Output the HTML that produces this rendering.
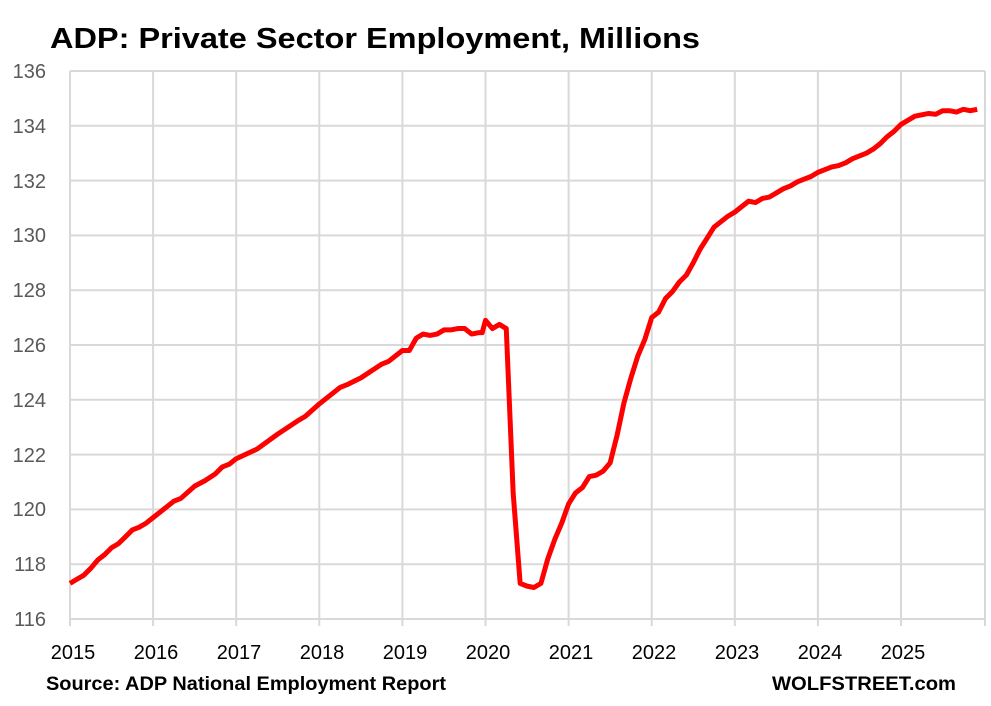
<!DOCTYPE html>
<html><head><meta charset="utf-8"><style>
body{margin:0;background:#fff;}
svg{display:block;font-family:"Liberation Sans",Arial,sans-serif;}
</style></head><body>
<svg width="991" height="706" viewBox="0 0 991 706">
<rect width="991" height="706" fill="#fff"/>
<text x="50" y="48" font-size="29" font-weight="bold" fill="#000" textLength="650" lengthAdjust="spacingAndGlyphs">ADP: Private Sector Employment, Millions</text>
<g stroke="#d9d9d9" stroke-width="2">
<line x1="70" y1="71" x2="985" y2="71"/>
<line x1="70" y1="125.8" x2="985" y2="125.8"/>
<line x1="70" y1="180.6" x2="985" y2="180.6"/>
<line x1="70" y1="235.4" x2="985" y2="235.4"/>
<line x1="70" y1="290.2" x2="985" y2="290.2"/>
<line x1="70" y1="345" x2="985" y2="345"/>
<line x1="70" y1="399.8" x2="985" y2="399.8"/>
<line x1="70" y1="454.6" x2="985" y2="454.6"/>
<line x1="70" y1="509.4" x2="985" y2="509.4"/>
<line x1="70" y1="564.2" x2="985" y2="564.2"/>
<line x1="70" y1="619" x2="985" y2="619"/>
<line x1="70" y1="71" x2="70" y2="626"/>
<line x1="153.1" y1="71" x2="153.1" y2="626"/>
<line x1="236.2" y1="71" x2="236.2" y2="626"/>
<line x1="319.3" y1="71" x2="319.3" y2="626"/>
<line x1="402.4" y1="71" x2="402.4" y2="626"/>
<line x1="485.5" y1="71" x2="485.5" y2="626"/>
<line x1="568.6" y1="71" x2="568.6" y2="626"/>
<line x1="651.7" y1="71" x2="651.7" y2="626"/>
<line x1="734.8" y1="71" x2="734.8" y2="626"/>
<line x1="817.9" y1="71" x2="817.9" y2="626"/>
<line x1="901" y1="71" x2="901" y2="626"/>
<line x1="985" y1="71" x2="985" y2="626"/>
</g>
<g font-size="20" fill="#595959" text-anchor="end">
<text x="46" y="78">136</text><text x="46" y="133">134</text><text x="46" y="188">132</text>
<text x="46" y="242">130</text><text x="46" y="297">128</text><text x="46" y="352">126</text>
<text x="46" y="407">124</text><text x="46" y="462">122</text><text x="46" y="516">120</text>
<text x="46" y="571">118</text><text x="46" y="626">116</text>
</g>
<g font-size="20" fill="#000" text-anchor="middle">
<text x="73" y="659">2015</text><text x="156" y="659">2016</text><text x="239" y="659">2017</text>
<text x="322" y="659">2018</text><text x="405" y="659">2019</text><text x="488" y="659">2020</text>
<text x="571" y="659">2021</text><text x="654" y="659">2022</text><text x="737" y="659">2023</text>
<text x="820" y="659">2024</text><text x="903" y="659">2025</text>
</g>
<text x="46" y="690" font-size="19" font-weight="bold" textLength="400" lengthAdjust="spacingAndGlyphs">Source: ADP National Employment Report</text>
<text x="772" y="690" font-size="19" font-weight="bold" textLength="184" lengthAdjust="spacingAndGlyphs">WOLFSTREET.com</text>
<g transform="translate(70,71) scale(83.1,-27.4) translate(-2015,-136)">
<polyline fill="none" stroke="#ff0000" stroke-width="5" stroke-linejoin="round" vector-effect="non-scaling-stroke" points="
2015,117.3 2015.083,117.45 2015.167,117.6 2015.25,117.85 2015.333,118.15 2015.417,118.35 2015.5,118.6 2015.583,118.75 2015.667,119 2015.75,119.25 2015.833,119.35 2015.917,119.5
2016,119.7 2016.125,120 2016.25,120.3 2016.333,120.4 2016.5,120.85 2016.625,121.05 2016.75,121.3 2016.833,121.55 2016.917,121.65
2017,121.85 2017.25,122.2 2017.5,122.75 2017.75,123.25 2017.833,123.4 2018,123.85 2018.25,124.45 2018.333,124.55 2018.5,124.8 2018.75,125.3 2018.833,125.4
2019,125.8 2019.083,125.8 2019.167,126.25 2019.25,126.4 2019.333,126.35 2019.417,126.4 2019.5,126.55 2019.583,126.55 2019.667,126.6 2019.75,126.6 2019.833,126.4 2019.917,126.45 2019.96,126.45
2020,126.9 2020.083,126.6 2020.167,126.75 2020.25,126.6 2020.333,120.6 2020.417,117.3 2020.5,117.2 2020.583,117.15 2020.667,117.3 2020.75,118.2 2020.833,118.9 2020.917,119.5
2021,120.2 2021.083,120.6 2021.167,120.8 2021.25,121.2 2021.333,121.25 2021.417,121.4 2021.5,121.7 2021.583,122.7 2021.667,123.9 2021.75,124.8 2021.833,125.6 2021.917,126.2
2022,127 2022.083,127.2 2022.167,127.7 2022.25,127.95 2022.333,128.3 2022.417,128.55 2022.5,129 2022.583,129.5 2022.667,129.9 2022.75,130.3 2022.833,130.5 2022.917,130.7
2023,130.85 2023.083,131.05 2023.167,131.25 2023.25,131.2 2023.333,131.35 2023.417,131.4 2023.5,131.55 2023.583,131.7 2023.667,131.8 2023.75,131.95 2023.833,132.05 2023.917,132.15
2024,132.3 2024.083,132.4 2024.167,132.5 2024.25,132.55 2024.333,132.65 2024.417,132.8 2024.5,132.9 2024.583,133 2024.667,133.15 2024.75,133.35 2024.833,133.6 2024.917,133.8
2025,134.05 2025.083,134.2 2025.167,134.35 2025.25,134.4 2025.333,134.45 2025.417,134.42 2025.5,134.55 2025.583,134.55 2025.667,134.5 2025.75,134.6 2025.833,134.55 2025.917,134.6"/>
</g>
</svg>
</body></html>
